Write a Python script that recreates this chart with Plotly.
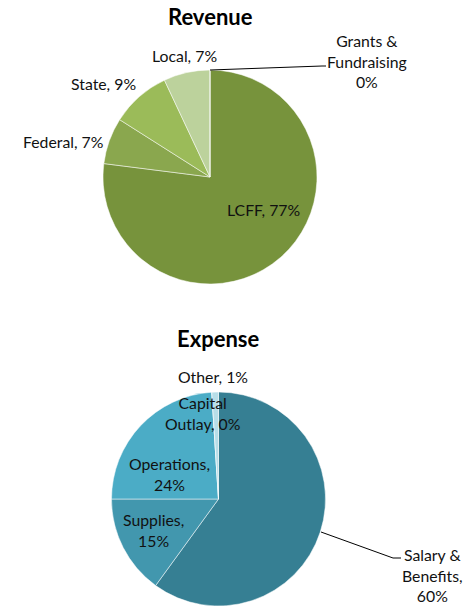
import plotly.graph_objects as go

# Revenue breakdown (percent of total)
rev_labels = ["LCFF", "Federal", "State", "Local", "Grants &<br>Fundraising"]
rev_values = [77, 7, 9, 7, 0]
rev_colors = ["#77933C", "#8AA74E", "#9BBB59", "#BCD29C", "#D7E4BD"]

# Expense breakdown (percent of total)
exp_labels = ["Salary &<br>Benefits,", "Supplies,", "Operations,", "Capital<br>Outlay,", "Other,"]
exp_values = [60, 15, 24, 0, 1]
exp_colors = ["#367F93", "#4297AE", "#4BACC6", "#93CDDD", "#B7DEE8"]

FONT = "Lato"
W, H = 472, 606


def px(x, y):
    """Pixel position (from top-left) to paper coordinates."""
    return x / W, 1 - y / H


fig = go.Figure()

fig.add_trace(go.Pie(
    values=rev_values, labels=rev_labels, sort=False, direction="clockwise",
    rotation=0, textinfo="none", hoverinfo="label+percent",
    marker=dict(colors=rev_colors, line=dict(color="#FFFFFF", width=0.5)),
    domain=dict(x=[103 / W, 317 / W], y=[1 - 284 / H, 1 - 70 / H]),
    showlegend=False,
))
fig.add_trace(go.Pie(
    values=exp_values, labels=exp_labels, sort=False, direction="clockwise",
    rotation=0, textinfo="none", hoverinfo="label+percent",
    marker=dict(colors=exp_colors, line=dict(color="#FFFFFF", width=0.5)),
    domain=dict(x=[111.5 / W, 325.5 / W], y=[1 - 606 / H, 1 - 392 / H]),
    showlegend=False,
))

annotations = []


def label(text, x, y):
    ax, ay = px(x, y)
    annotations.append(dict(
        text=text, x=ax, y=ay, xref="paper", yref="paper",
        xanchor="center", yanchor="middle", showarrow=False,
        font=dict(family=FONT, size=15.8, color="#111111"),
    ))


# Revenue labels
label(f"{rev_labels[0]}, {rev_values[0]}%", 263, 210)
label(f"{rev_labels[1]}, {rev_values[1]}%", 63, 141)
label(f"{rev_labels[2]}, {rev_values[2]}%", 103, 83)
label(f"{rev_labels[3]}, {rev_values[3]}%", 184, 55)
label(f"{rev_labels[4]}<br>{rev_values[4]}%", 367, 61)

# Expense labels
label(f"{exp_labels[0]}<br>{exp_values[0]}%", 432, 575)
label(f"{exp_labels[1]}<br>{exp_values[1]}%", 153, 530)
label(f"{exp_labels[2]}<br>{exp_values[2]}%", 169, 474)
label(f"{exp_labels[3]} {exp_values[3]}%", 202, 412.5)
label(f"{exp_labels[4]} {exp_values[4]}%", 213, 376)

# Titles
for title, x, y in [("Revenue", 210, 17), ("Expense", 218, 338)]:
    ax, ay = px(x, y)
    annotations.append(dict(
        text=f"<b>{title}</b>", x=ax, y=ay, xref="paper", yref="paper",
        xanchor="center", yanchor="middle", showarrow=False,
        font=dict(family=FONT, size=22, color="#000000"),
    ))

# Leader lines
shapes = []
for pts in [[(210, 70), (322, 66), (326, 66)], [(321, 532), (393, 558), (401, 558)]]:
    path = "M " + " L ".join(f"{px(x, y)[0]},{px(x, y)[1]}" for x, y in pts)
    shapes.append(dict(type="path", path=path, xref="paper", yref="paper",
                       line=dict(color="#000000", width=1)))

fig.update_layout(
    width=W, height=H, margin=dict(l=0, r=0, t=0, b=0),
    paper_bgcolor="#FFFFFF", plot_bgcolor="#FFFFFF",
    annotations=annotations, shapes=shapes,
)

fig.write_html("out.html")
